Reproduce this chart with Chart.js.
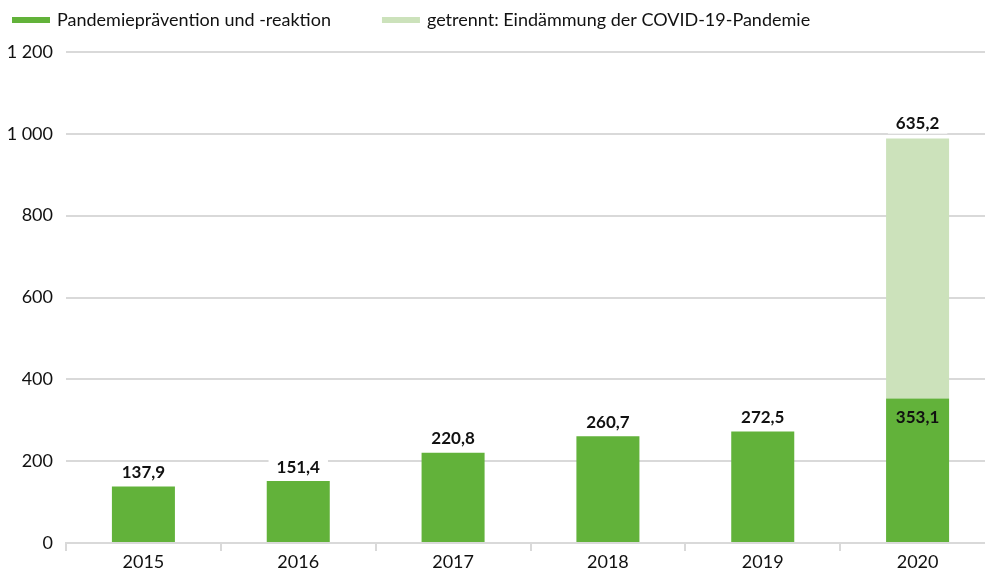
<!DOCTYPE html>
<html>
<head>
<meta charset="utf-8">
<script src="https://cdn.jsdelivr.net/npm/chart.js@4"></script>
<style>
  html, body { margin: 0; padding: 0; background: #fff; overflow: hidden; }
  #wrap { width: 1000px; height: 570px; }
</style>
</head>
<body>
<div id="wrap"><canvas id="chart" width="1000" height="570"></canvas></div>
<script>
// --- DATEN ---
const years = ['2015', '2016', '2017', '2018', '2019', '2020'];
const praevention = [137.9, 151.4, 220.8, 260.7, 272.5, 353.1];
const covid = [null, null, null, null, null, 635.2];
const seriesNames = ['Pandemieprävention und -reaktion', 'getrennt: Eindämmung der COVID-19-Pandemie'];
const yTicks = [0, 200, 400, 600, 800, 1000, 1200];

const FONT = 'Lato, "Open Sans", sans-serif';
const DARK = '#62b23a';
const LIGHT = '#cce2bb';
const GRID = '#d9d9d9';

const fmt = v => v.toFixed(1).replace('.', ',');

// Legende oben links (Linien-Symbole)
const lineLegend = {
    id: 'lineLegend',
    afterDraw(chart) {
        const ctx = chart.ctx;
        const colors = [DARK, LIGHT];
        ctx.save();
        ctx.font = '18px ' + FONT;
        ctx.textBaseline = 'middle';
        ctx.fillStyle = '#111';
        let x = 12;
        seriesNames.forEach((name, i) => {
            ctx.fillStyle = colors[i];
            ctx.fillRect(x, 17, 38, 6);
            ctx.fillStyle = '#111';
            ctx.fillText(name, x + 45, 20);
            x += 45 + ctx.measureText(name).width + 51;
        });
        ctx.restore();
    }
};

// Wertebeschriftungen über/in den Balken
const valueLabels = {
    id: 'valueLabels',
    afterDatasetsDraw(chart) {
        const ctx = chart.ctx;
        ctx.save();
        ctx.font = 'bold 17px ' + FONT;
        ctx.textAlign = 'center';
        ctx.textBaseline = 'middle';
        const m0 = chart.getDatasetMeta(0);
        const m1 = chart.getDatasetMeta(1);
        praevention.forEach((v, i) => {
            const bar = m0.data[i];
            if (covid[i] != null) {
                ctx.fillStyle = '#111';
                ctx.fillText(fmt(v), bar.x, bar.y + 19);
                const top = m1.data[i];
                drawBoxed(ctx, fmt(covid[i]), top.x, top.y - 15);
            } else {
                drawBoxed(ctx, fmt(v), bar.x, bar.y - 14);
            }
        });
        ctx.restore();
    }
};

function drawBoxed(ctx, text, x, y) {
    const w = ctx.measureText(text).width + 16;
    ctx.fillStyle = '#fff';
    ctx.fillRect(x - w / 2, y - 10, w, 20);
    ctx.fillStyle = '#111';
    ctx.fillText(text, x, y);
}

new Chart(document.getElementById('chart'), {
    type: 'bar',
    data: {
        labels: years,
        datasets: [
            { label: seriesNames[0], data: praevention, backgroundColor: DARK, borderWidth: 0 },
            { label: seriesNames[1], data: covid, backgroundColor: LIGHT, borderWidth: 0 }
        ]
    },
    options: {
        responsive: false,
        animation: false,
        layout: { padding: { left: 8, right: 5, top: 52, bottom: 0 } },
        datasets: { bar: { categoryPercentage: 1, barPercentage: 0.407 } },
        plugins: {
            tooltip: { enabled: false },
            legend: { display: false }
        },
        scales: {
            x: {
                stacked: true,
                afterFit: axis => { axis.height = 27; },
                grid: { offset: true, drawOnChartArea: false, drawTicks: true, tickLength: 8, color: GRID, lineWidth: 2 },
                border: { display: true, color: GRID, width: 2 },
                ticks: { font: { family: FONT, size: 18 }, color: '#111', padding: 0 }
            },
            y: {
                stacked: true,
                min: 0,
                max: 1200,
                afterBuildTicks: axis => { axis.ticks = yTicks.map(v => ({ value: v })); },
                afterFit: axis => { axis.width = 58; },
                grid: { color: GRID, lineWidth: 2, drawTicks: false },
                border: { display: false },
                ticks: {
                    font: { family: FONT, size: 18 },
                    color: '#111',
                    padding: 13,
                    callback: v => v >= 1000 ? String(v).replace(/(\d)(\d{3})$/, '$1\u202F$2') : String(v)
                }
            }
        }
    },
    plugins: [valueLabels, lineLegend]
});
</script>
</body>
</html>
